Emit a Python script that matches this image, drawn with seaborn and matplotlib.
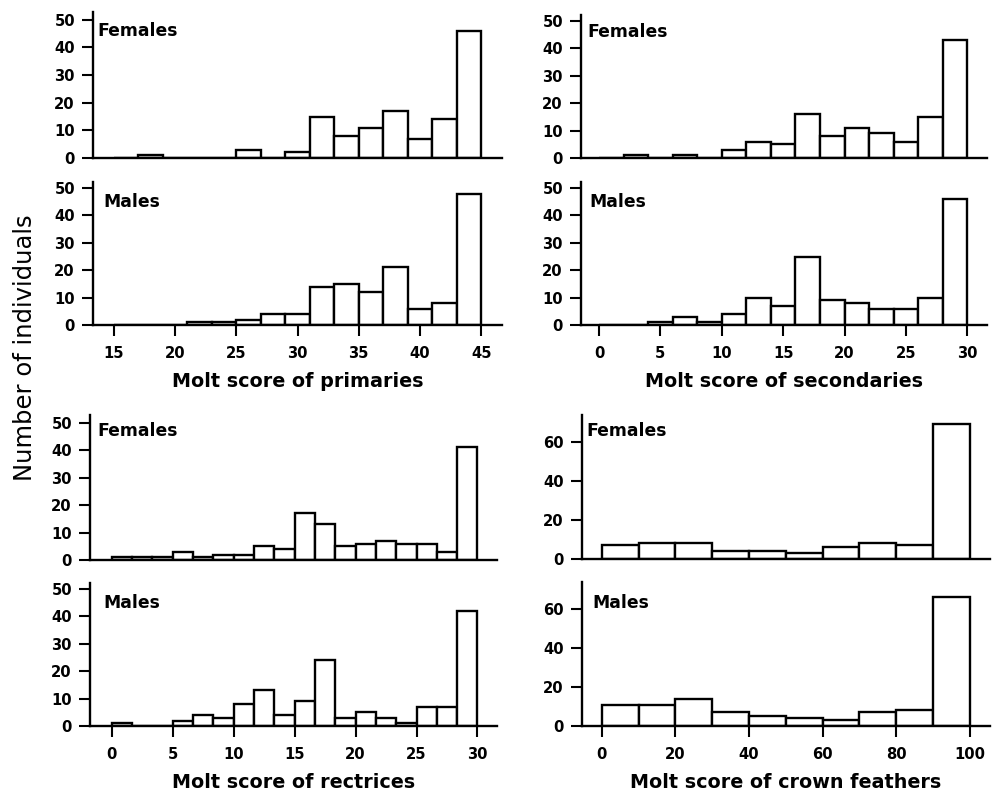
import numpy as np
import pandas as pd
import matplotlib
matplotlib.use("Agg")
import matplotlib.pyplot as plt
import seaborn as sns

# ---------------- data (counts per bin) ----------------
prim_range = (15, 45)
prim_females = [0, 1, 0, 0, 0, 3, 0, 2, 15, 8, 11, 17, 7, 14, 46]
prim_males = [0, 0, 0, 1, 1, 2, 4, 4, 14, 15, 12, 21, 6, 8, 48]
prim_ticks = [15, 20, 25, 30, 35, 40, 45]

sec_range = (0, 30)
sec_females = [0, 1, 0, 1, 0, 3, 6, 5, 16, 8, 11, 9, 6, 15, 43]
sec_males = [0, 0, 1, 3, 1, 4, 10, 7, 25, 9, 8, 6, 6, 10, 46]
sec_ticks = [0, 5, 10, 15, 20, 25, 30]

rect_range = (0, 30)
rect_females = [1, 1, 1, 3, 1, 2, 2, 5, 4, 17, 13, 5, 6, 7, 6, 6, 3, 41]
rect_males = [1, 0, 0, 2, 4, 3, 8, 13, 4, 9, 24, 3, 5, 3, 1, 7, 7, 42]
rect_ticks = [0, 5, 10, 15, 20, 25, 30]

crown_range = (0, 100)
crown_females = [7, 8, 8, 4, 4, 3, 6, 8, 7, 69]
crown_males = [11, 11, 14, 7, 5, 4, 3, 7, 8, 66]
crown_ticks = [0, 20, 40, 60, 80, 100]

xlabels = ["Molt score of primaries", "Molt score of secondaries",
           "Molt score of rectrices", "Molt score of crown feathers"]
sex_labels = ["Females", "Males"]
ylabel = "Number of individuals"

# ---------------- style ----------------
sns.set_style("ticks")
plt.rcParams["font.family"] = ["DejaVu Sans"]
plt.rcParams["axes.linewidth"] = 1.5
plt.rcParams["text.color"] = "black"
plt.rcParams["axes.labelcolor"] = "black"
plt.rcParams["axes.edgecolor"] = "black"
plt.rcParams["xtick.color"] = "black"
plt.rcParams["ytick.color"] = "black"

W, H = 992, 793
fig = plt.figure(figsize=(W / 100, H / 100), dpi=100)


def add_ax(left, right, top, bottom):
    return fig.add_axes([left / W, 1 - bottom / H, (right - left) / W, (bottom - top) / H])


panels = [
    (prim_females, prim_range, prim_ticks, (13.3, 46.7), 52.8, [0, 10, 20, 30, 40, 50],
     (93, 502, 12, 158), (4, 30.7), None, False, 0),
    (prim_males, prim_range, prim_ticks, (13.3, 46.7), 52.2, [0, 10, 20, 30, 40, 50],
     (93, 502, 182, 325), (10, 201.7), xlabels[0], True, 1),
    (sec_females, sec_range, sec_ticks, (-1.47, 31.6), 52.2, [0, 10, 20, 30, 40, 50],
     (581, 987, 15, 158), (6, 32), None, False, 0),
    (sec_males, sec_range, sec_ticks, (-1.47, 31.6), 52.2, [0, 10, 20, 30, 40, 50],
     (581, 987, 182, 325), (8, 201.7), xlabels[1], True, 1),
    (rect_females, rect_range, rect_ticks, (-1.78, 31.6), 52.8, [0, 10, 20, 30, 40, 50],
     (90, 497, 415, 560), (7, 431), None, False, 0),
    (rect_males, rect_range, rect_ticks, (-1.78, 31.6), 52.2, [0, 10, 20, 30, 40, 50],
     (90, 497, 583, 726), (13, 602.7), xlabels[2], True, 1),
    (crown_females, crown_range, crown_ticks, (-5.4, 105.5), 73.8, [0, 20, 40, 60],
     (582, 990, 415, 559), (4, 431), None, False, 0),
    (crown_males, crown_range, crown_ticks, (-5.4, 105.5), 73.8, [0, 20, 40, 60],
     (582, 990, 582, 726), (10, 602.7), xlabels[3], True, 1),
]

for counts, rng, ticks, xlim, ytop, yticks, box, toff, xlab, show_x, sex in panels:
    left, right, top, bottom = box
    ax = add_ax(left, right, top, bottom)
    n = len(counts)
    step = (rng[1] - rng[0]) / n
    centers = rng[0] + step * (np.arange(n) + 0.5)
    df = pd.DataFrame({"score": centers, "count": np.asarray(counts, dtype=float)})
    sns.histplot(data=df, x="score", weights="count", bins=n, binrange=rng, ax=ax,
                 color="white", edgecolor="black", linewidth=1.7, alpha=1)
    ax.set_xlim(*xlim)
    ax.set_ylim(0, ytop)
    ax.set_yticks(yticks)
    ax.set_ylabel("")
    sns.despine(ax=ax)
    ax.spines["left"].set_linewidth(1.7)
    ax.spines["bottom"].set_linewidth(1.7)
    ax.tick_params(axis="y", length=8, width=1.5, pad=5, labelsize=10.6)
    for lab in ax.get_yticklabels():
        lab.set_fontweight("bold")
    if show_x:
        ax.set_xticks(ticks)
        ax.tick_params(axis="x", length=8, width=1.5, pad=7, labelsize=10.6)
        for lab in ax.get_xticklabels():
            lab.set_fontweight("bold")
        ax.set_xlabel(xlab, fontsize=13.8, fontweight="bold", labelpad=8)
    else:
        ax.set_xticks([])
        ax.set_xlabel("")
    wpx = right - left
    hpx = bottom - top
    ax.text(toff[0] / wpx, (bottom - toff[1]) / hpx, sex_labels[sex],
            transform=ax.transAxes, ha="left", va="center",
            fontsize=12.4, fontweight="bold")

fig.text(25 / W, 1 - 348 / H, ylabel, rotation=90, ha="center", va="center",
         fontsize=17.5)

fig.savefig("out.png", dpi=100)
